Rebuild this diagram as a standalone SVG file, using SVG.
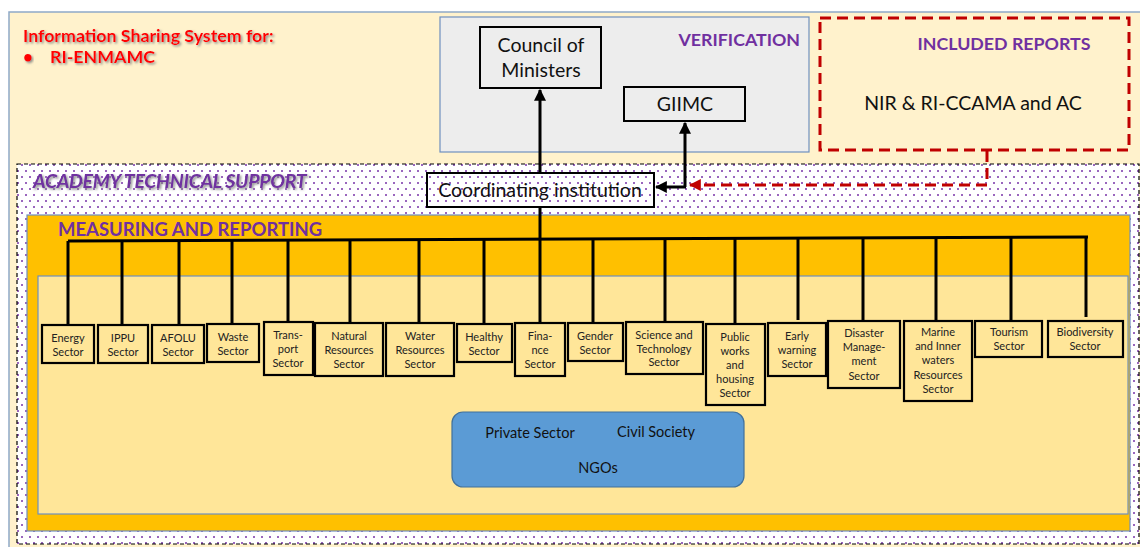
<svg xmlns="http://www.w3.org/2000/svg" width="1140" height="547" viewBox="0 0 1140 547">
<defs>
<pattern id="dots" patternUnits="userSpaceOnUse" width="8" height="12">
<rect width="8" height="12" fill="#FFFFFF"/>
<rect x="1" y="2" width="2" height="2" fill="#9A66BE"/>
<rect x="5" y="8" width="2" height="2" fill="#9A66BE"/>
</pattern>
<filter id="shadow" x="-5%" y="-30%" width="110%" height="160%">
<feDropShadow dx="1.5" dy="1.5" stdDeviation="0.8" flood-color="#7F7F7F" flood-opacity="0.9"/>
</filter>
<marker id="ah" viewBox="0 0 10 10" refX="9" refY="5" markerWidth="4" markerHeight="4" orient="auto-start-reverse" markerUnits="strokeWidth">
<path d="M0,0 L10,5 L0,10 Z" fill="#000"/>
</marker>
<marker id="ahr" viewBox="0 0 10 10" refX="9" refY="5" markerWidth="4" markerHeight="4" orient="auto" markerUnits="strokeWidth">
<path d="M0,0 L10,5 L0,10 Z" fill="#C00000"/>
</marker>
</defs>
<style>
text{font-family:Lato,"Liberation Sans",sans-serif;}
.box{fill:none;stroke:#000;stroke-width:2;}
.sec{fill:#FFE699;stroke:#000;stroke-width:2.2;}
.st{font-size:11px;fill:#222;text-anchor:middle;}
.big{font-size:19.5px;fill:#111;text-anchor:middle;}
.purple{fill:#7030A0;font-weight:bold;}
.drop{stroke:#000;stroke-width:3;fill:none;}
</style>

<!-- background frame -->
<rect x="0" y="0" width="1140" height="547" fill="#FFFFFF"/>
<rect x="9" y="12" width="1140" height="545" fill="#FFF2CC" stroke="#8EA9C8" stroke-width="1.5"/>

<g id="title">
<text x="23" y="42" font-size="17.8" font-weight="bold" fill="#FF0000" filter="url(#shadow)">Information Sharing System for:</text>
<text x="23" y="63" font-size="17" font-weight="bold" fill="#FF0000" filter="url(#shadow)">•</text>
<text x="50" y="63" font-size="17.8" font-weight="bold" fill="#FF0000" filter="url(#shadow)">RI-ENMAMC</text>
</g>

<g id="verification">
<rect x="440" y="17" width="369" height="135" fill="#EDEDED" stroke="#6E8FBF" stroke-width="1.2"/>
<text x="800" y="46" font-size="17.8" class="purple" text-anchor="end">VERIFICATION</text>
</g>

<g id="included-reports">
<rect x="820" y="18" width="309" height="132" fill="none" stroke="#C00000" stroke-width="3" stroke-dasharray="11,6"/>
<text x="1004" y="50" font-size="17.8" class="purple" text-anchor="middle">INCLUDED REPORTS</text>
<text x="973" y="110" class="big">NIR &amp; RI-CCAMA and AC</text>
</g>

<g id="academy">
<rect x="17" y="164" width="1122" height="380" fill="url(#dots)" stroke="#000" stroke-width="1.2" stroke-dasharray="4,3"/>
<text x="33" y="188" font-size="19.5" font-weight="bold" font-style="italic" fill="#7030A0" filter="url(#shadow)" letter-spacing="-0.3">ACADEMY TECHNICAL SUPPORT</text>
</g>

<g id="measuring">
<rect x="27" y="215" width="1103" height="316" fill="#FFC000" stroke="#6E8FBF" stroke-width="1.2"/>
<rect x="38" y="276" width="1090" height="238" fill="#FFE699" stroke="#6E8FBF" stroke-width="1.2"/>
<text x="58" y="236" font-size="18.5" class="purple">MEASURING AND REPORTING</text>
</g>

<g id="council-of-ministers">
<rect class="box" x="480" y="27" width="121" height="61"/>
<text class="big" x="541" y="52">Council of</text>
<text class="big" x="541" y="77">Ministers</text>
</g>

<g id="giimc">
<rect class="box" x="624" y="87" width="121" height="34"/>
<text class="big" x="685" y="111">GIIMC</text>
</g>

<g id="coordinating-institution">
<rect class="box" x="427" y="173" width="227" height="34"/>
<text class="big" x="540" y="197">Coordinating institution</text>
</g>

<g id="connectors">
<line x1="540" y1="173" x2="540" y2="90" stroke="#000" stroke-width="3" marker-end="url(#ah)"/>
<line x1="540" y1="240" x2="540" y2="207" stroke="#000" stroke-width="3"/>
<line x1="685" y1="187" x2="685" y2="123" stroke="#000" stroke-width="3" marker-end="url(#ah)"/>
<line x1="686" y1="187" x2="656" y2="187" stroke="#000" stroke-width="3" marker-end="url(#ah)"/>
<path d="M987,151 L987,185 L690,185" fill="none" stroke="#C00000" stroke-width="3" stroke-dasharray="11,6" marker-end="url(#ahr)"/>
<path class="drop" d="M68,241 L1088,237"/>
<path class="drop" d="M68,241 V325 M122,241 V325 M179,241 V325 M232,240 V324 M288,240 V322 M350,240 V323 M419,240 V323 M484,240 V324 M540,240 V323 M593,239 V323 M665,239 V322 M735,239 V324 M798,238 V320 M863,238 V321 M936,238 V321 M1011,237 V321 M1086,237 V317"/>
</g>

<g id="energy"><rect class="sec" x="42" y="325" width="52" height="38"/><text class="st" x="68" y="342">Energy</text><text class="st" x="68" y="356">Sector</text></g>
<g id="ippu"><rect class="sec" x="98" y="325" width="50" height="38"/><text class="st" x="123" y="342">IPPU</text><text class="st" x="123" y="356">Sector</text></g>
<g id="afolu"><rect class="sec" x="152" y="325" width="52" height="38"/><text class="st" x="178" y="342">AFOLU</text><text class="st" x="178" y="356">Sector</text></g>
<g id="waste"><rect class="sec" x="207" y="324" width="52" height="38"/><text class="st" x="233" y="341">Waste</text><text class="st" x="233" y="355">Sector</text></g>
<g id="transport"><rect class="sec" x="264" y="322" width="49" height="53"/><text class="st" x="288" y="339">Trans-</text><text class="st" x="288" y="353">port</text><text class="st" x="288" y="367">Sector</text></g>
<g id="natural-resources"><rect class="sec" x="315" y="323" width="68" height="53"/><text class="st" x="349" y="340">Natural</text><text class="st" x="349" y="354">Resources</text><text class="st" x="349" y="368">Sector</text></g>
<g id="water-resources"><rect class="sec" x="386" y="323" width="68" height="53"/><text class="st" x="420" y="340">Water</text><text class="st" x="420" y="354">Resources</text><text class="st" x="420" y="368">Sector</text></g>
<g id="healthy"><rect class="sec" x="457" y="324" width="55" height="38"/><text class="st" x="484" y="341">Healthy</text><text class="st" x="484" y="355">Sector</text></g>
<g id="finance"><rect class="sec" x="515" y="323" width="50" height="53"/><text class="st" x="540" y="340">Fina-</text><text class="st" x="540" y="354">nce</text><text class="st" x="540" y="368">Sector</text></g>
<g id="gender"><rect class="sec" x="568" y="323" width="55" height="38"/><text class="st" x="595" y="340">Gender</text><text class="st" x="595" y="354">Sector</text></g>
<g id="science-technology"><rect class="sec" x="626" y="322" width="77" height="52"/><text class="st" x="664" y="339">Science and</text><text class="st" x="664" y="353">Technology</text><text class="st" x="664" y="366">Sector</text></g>
<g id="public-works"><rect class="sec" x="706" y="324" width="59" height="81"/><text class="st" x="735" y="341">Public</text><text class="st" x="735" y="355">works</text><text class="st" x="735" y="369">and</text><text class="st" x="735" y="383">housing</text><text class="st" x="735" y="397">Sector</text></g>
<g id="early-warning"><rect class="sec" x="768" y="323" width="58" height="53"/><text class="st" x="797" y="340">Early</text><text class="st" x="797" y="354">warning</text><text class="st" x="797" y="368">Sector</text></g>
<g id="disaster-management"><rect class="sec" x="828" y="321" width="72" height="67"/><text class="st" x="864" y="337">Disaster</text><text class="st" x="864" y="351">Manage-</text><text class="st" x="864" y="365">ment</text><text class="st" x="864" y="380">Sector</text></g>
<g id="marine-inner-waters"><rect class="sec" x="904" y="321" width="68" height="80"/><text class="st" x="938" y="336">Marine</text><text class="st" x="938" y="350">and Inner</text><text class="st" x="938" y="364">waters</text><text class="st" x="938" y="379">Resources</text><text class="st" x="938" y="393">Sector</text></g>
<g id="tourism"><rect class="sec" x="975" y="321" width="67" height="36"/><text class="st" x="1009" y="336">Tourism</text><text class="st" x="1009" y="350">Sector</text></g>
<g id="biodiversity"><rect class="sec" x="1048" y="321" width="75" height="36"/><text class="st" x="1085" y="336">Biodiversity</text><text class="st" x="1085" y="350">Sector</text></g>

<g id="stakeholders">
<rect x="452" y="412" width="292" height="75" rx="11" fill="#5B9BD5" stroke="#41719C" stroke-width="1.2"/>
<text x="530" y="438" font-size="14.5" fill="#111" text-anchor="middle">Private Sector</text>
<text x="656" y="437" font-size="14.5" fill="#111" text-anchor="middle">Civil Society</text>
<text x="598" y="473" font-size="14.5" fill="#111" text-anchor="middle">NGOs</text>
</g>
</svg>
